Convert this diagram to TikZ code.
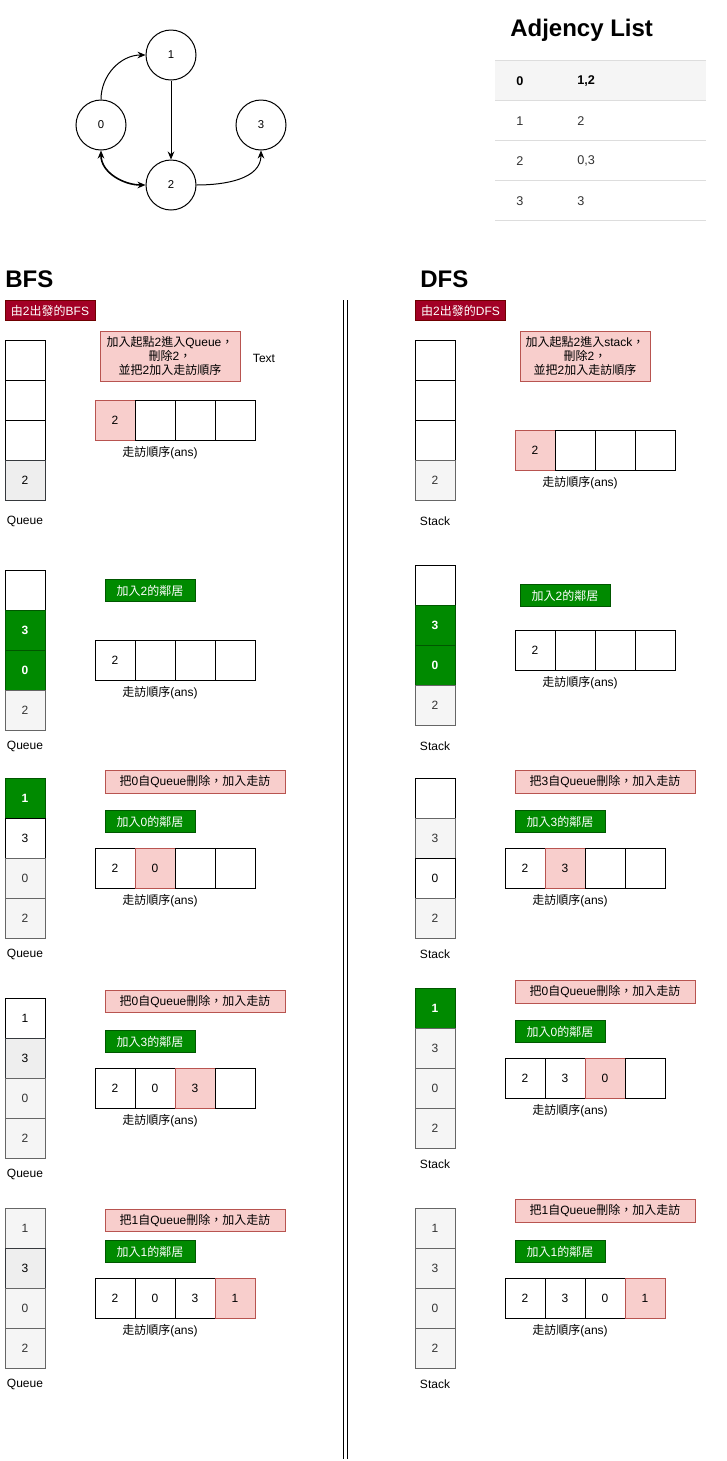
\documentclass[tikz,border=0pt]{standalone}
\usepackage{fontspec}
\setmainfont{Liberation Sans}
\newfontfamily\cjk{Noto Sans CJK TC}
\newcommand\zh[1]{{\cjk #1}}
\usetikzlibrary{arrows.meta}
\definecolor{grayF}{HTML}{F5F5F5}
\definecolor{grayE}{HTML}{EEEEEE}
\definecolor{grayB}{HTML}{666666}
\definecolor{grayT}{HTML}{333333}
\definecolor{grayK}{HTML}{36393D}
\definecolor{greenF}{HTML}{008A00}
\definecolor{greenD}{HTML}{005700}
\definecolor{pinkF}{HTML}{F8CECC}
\definecolor{pinkD}{HTML}{B85450}
\definecolor{redF}{HTML}{A20025}
\definecolor{redD}{HTML}{6F0000}
\definecolor{lineL}{HTML}{DDDDDD}
\definecolor{tabT}{HTML}{333333}
\tikzset{
  cell/.style={draw=black, fill=white, minimum width=30pt, minimum height=30pt, inner sep=0pt, line width=0.75pt, font=\fontsize{9}{11}\selectfont},
  cw/.style={cell},
  cgl/.style={cell, fill=grayF, draw=grayB, text=grayT},
  cgd/.style={cell, fill=grayE, draw=grayK},
  cgr/.style={cell, fill=greenF, draw=greenD, text=white, font=\bfseries\fontsize{9}{11}\selectfont},
  cpk/.style={cell, fill=pinkF, draw=pinkD},
  pinkbox/.style={draw=pinkD, fill=pinkF, line width=0.75pt, inner sep=0pt, align=center, font=\fontsize{9}{10.8}\selectfont},
  pinkline/.style={pinkbox, minimum width=135pt, minimum height=17pt},
  greenline/.style={draw=greenD, fill=greenF, text=white, line width=0.75pt, inner sep=0pt, minimum width=67.5pt, minimum height=16.5pt, font=\fontsize{9}{10.5}\selectfont},
  redlabel/.style={draw=redD, fill=redF, text=white, line width=0.75pt, inner sep=0pt, minimum width=67.5pt, minimum height=15pt, font=\fontsize{9}{10.5}\selectfont},
  lbl/.style={inner sep=0pt, font=\fontsize{9}{11}\selectfont},
  anslbl/.style={inner sep=0pt, font=\fontsize{9}{11}\selectfont},
  title/.style={inner sep=0pt, anchor=west, font=\bfseries\fontsize{18}{20}\selectfont},
  vtx/.style={circle, draw=black, line width=0.75pt, minimum size=37.5pt, inner sep=0pt, font=\fontsize{8.5}{10}\selectfont},
  tab/.style={inner sep=0pt, anchor=west, text=tabT, font=\fontsize{9.5}{11}\selectfont},
  tabb/.style={tab, font=\bfseries\fontsize{9.5}{11}\selectfont, text=black},
  edge/.style={line width=0.75pt, -{Stealth[length=6pt,width=5pt]}},
}
\begin{document}
\begin{tikzpicture}[x=0.75pt,y=-0.75pt]
\useasboundingbox (0,0) rectangle (726,1461);
\fill[white] (0,0) rectangle (726,1461);

% ---------- graph ----------
\node[vtx] (n1) at (171,55) {1};
\node[vtx] (n0) at (101,125) {0};
\node[vtx] (n2) at (171,185) {2};
\node[vtx] (n3) at (261,125) {3};
\draw[edge] (n0.north) to[out=90,in=180] (n1.west);
\draw[edge] (n1.south) -- (n2.north);
\draw[line width=1.2pt, {Stealth[length=6pt,width=5pt]}-{Stealth[length=6pt,width=5pt]}] (n0.south) to[out=-90,in=180] (n2.west);
\draw[edge] (n2.east) to[out=0,in=-90] (n3.south);

% ---------- adjacency list ----------
\node[title] (adjt) at (510,30) {Adjency List};
\fill[grayF] (495,60) rectangle (706,100);
\foreach \yy in {60,100,140,180,220} \draw[lineL, line width=0.75pt] (495,\yy) -- (706,\yy);
\node[tabb] (t0a) at (516,81) {0};
\node[tabb] (t0b) at (577,81) {1,2};
\node[tab] (t1a) at (516,121) {1};
\node[tab] (t1b) at (577,121) {2};
\node[tab] (t2a) at (516,161) {2};
\node[tab] (t2b) at (577,161) {0,3};
\node[tab] (t3a) at (516,201) {3};
\node[tab] (t3b) at (577,201) {3};

% ---------- titles ----------
\node[title] (bfst) at (5,279) {BFS};
\node[title] (dfst) at (420,279) {DFS};
\node[redlabel] (bfsr) at (50,310.5) {\zh{由}2\zh{出發的}BFS};
\node[redlabel] (dfsr) at (460.5,310.5) {\zh{由}2\zh{出發的}DFS};

% separator
\draw[line width=1.2pt] (343.5,300) -- (343.5,1459);
\draw[line width=1.2pt] (347.5,300) -- (347.5,1459);

% ================= BFS =================
% step 1
\node[cw] (bq1a) at (25,360) {};
\node[cw] (bq1b) at (25,400) {};
\node[cw] (bq1c) at (25,440) {};
\node[cgd] (bq1d) at (25,480) {2};
\node[lbl] (bq1l) at (25,521) {Queue};
\node[pinkbox, minimum width=105pt, minimum height=37.5pt] (bp1) at (170,356) {\zh{加入起點}2\zh{進入}Queue\zh{，}\\\zh{刪除}2\zh{，}\\\zh{並把}2\zh{加入走訪順序}};
\node[lbl] (btext) at (264,358) {Text};
\node[cpk] (ba1a) at (115,420) {2};
\node[cw] (ba1b) at (155,420) {};
\node[cw] (ba1c) at (195,420) {};
\node[cw] (ba1d) at (235,420) {};
\node[anslbl] (ba1l) at (160,452.5) {\zh{走訪順序}(ans)};

% step 2
\node[cw] (bq2a) at (25,590) {};
\node[cgr] (bq2b) at (25,630) {3};
\node[cgr] (bq2c) at (25,670) {0};
\node[cgl] (bq2d) at (25,710) {2};
\node[lbl] (bq2l) at (25,746) {Queue};
\node[greenline] (bg2) at (150,590.5) {\zh{加入}2\zh{的鄰居}};
\node[cw] (ba2a) at (115,660) {2};
\node[cw] (ba2b) at (155,660) {};
\node[cw] (ba2c) at (195,660) {};
\node[cw] (ba2d) at (235,660) {};
\node[anslbl] (ba2l) at (160,692.5) {\zh{走訪順序}(ans)};

% step 3
\node[cgr] (bq3a) at (25,798) {1};
\node[cw] (bq3b) at (25,838) {3};
\node[cgl] (bq3c) at (25,878) {0};
\node[cgl] (bq3d) at (25,918) {2};
\node[lbl] (bq3l) at (25,954) {Queue};
\node[pinkline] (bp3) at (195,782) {\zh{把}0\zh{自}Queue\zh{刪除，加入走訪}};
\node[greenline] (bg3) at (150,821.5) {\zh{加入}0\zh{的鄰居}};
\node[cw] (ba3a) at (115,868) {2};
\node[cpk] (ba3b) at (155,868) {0};
\node[cw] (ba3c) at (195,868) {};
\node[cw] (ba3d) at (235,868) {};
\node[anslbl] (ba3l) at (160,900.5) {\zh{走訪順序}(ans)};

% step 4
\node[cw] (bq4a) at (25,1018) {1};
\node[cgd] (bq4b) at (25,1058) {3};
\node[cgl] (bq4c) at (25,1098) {0};
\node[cgl] (bq4d) at (25,1138) {2};
\node[lbl] (bq4l) at (25,1174) {Queue};
\node[pinkline] (bp4) at (195,1001.5) {\zh{把}0\zh{自}Queue\zh{刪除，加入走訪}};
\node[greenline] (bg4) at (150,1041.5) {\zh{加入}3\zh{的鄰居}};
\node[cw] (ba4a) at (115,1088) {2};
\node[cw] (ba4b) at (155,1088) {0};
\node[cpk] (ba4c) at (195,1088) {3};
\node[cw] (ba4d) at (235,1088) {};
\node[anslbl] (ba4l) at (160,1120.5) {\zh{走訪順序}(ans)};

% step 5
\node[cgl] (bq5a) at (25,1228) {1};
\node[cgd] (bq5b) at (25,1268) {3};
\node[cgl] (bq5c) at (25,1308) {0};
\node[cgl] (bq5d) at (25,1348) {2};
\node[lbl] (bq5l) at (25,1384) {Queue};
\node[pinkline] (bp5) at (195,1220.5) {\zh{把}1\zh{自}Queue\zh{刪除，加入走訪}};
\node[greenline] (bg5) at (150,1251.5) {\zh{加入}1\zh{的鄰居}};
\node[cw] (ba5a) at (115,1298) {2};
\node[cw] (ba5b) at (155,1298) {0};
\node[cw] (ba5c) at (195,1298) {3};
\node[cpk] (ba5d) at (235,1298) {1};
\node[anslbl] (ba5l) at (160,1330.5) {\zh{走訪順序}(ans)};

% ================= DFS =================
% step 1
\node[cw] (ds1a) at (435,360) {};
\node[cw] (ds1b) at (435,400) {};
\node[cw] (ds1c) at (435,440) {};
\node[cgl] (ds1d) at (435,480) {2};
\node[lbl] (ds1l) at (435,521) {Stack};
\node[pinkbox, minimum width=97.5pt, minimum height=37.5pt] (dp1) at (585,356) {\zh{加入起點}2\zh{進入}stack\zh{，}\\\zh{刪除}2\zh{，}\\\zh{並把}2\zh{加入走訪順序}};
\node[cpk] (da1a) at (535,450) {2};
\node[cw] (da1b) at (575,450) {};
\node[cw] (da1c) at (615,450) {};
\node[cw] (da1d) at (655,450) {};
\node[anslbl] (da1l) at (580,482.5) {\zh{走訪順序}(ans)};

% step 2
\node[cw] (ds2a) at (435,585) {};
\node[cgr] (ds2b) at (435,625) {3};
\node[cgr] (ds2c) at (435,665) {0};
\node[cgl] (ds2d) at (435,705) {2};
\node[lbl] (ds2l) at (435,746) {Stack};
\node[greenline] (dg2) at (565,595.5) {\zh{加入}2\zh{的鄰居}};
\node[cw] (da2a) at (535,650) {2};
\node[cw] (da2b) at (575,650) {};
\node[cw] (da2c) at (615,650) {};
\node[cw] (da2d) at (655,650) {};
\node[anslbl] (da2l) at (580,682.5) {\zh{走訪順序}(ans)};

% step 3
\node[cw] (ds3a) at (435,798) {};
\node[cgl] (ds3b) at (435,838) {3};
\node[cw] (ds3c) at (435,878) {0};
\node[cgl] (ds3d) at (435,918) {2};
\node[lbl] (ds3l) at (435,954) {Stack};
\node[pinkline] (dp3) at (605,782) {\zh{把}3\zh{自}Queue\zh{刪除，加入走訪}};
\node[greenline] (dg3) at (560,821.5) {\zh{加入}3\zh{的鄰居}};
\node[cw] (da3a) at (525,868) {2};
\node[cpk] (da3b) at (565,868) {3};
\node[cw] (da3c) at (605,868) {};
\node[cw] (da3d) at (645,868) {};
\node[anslbl] (da3l) at (570,900.5) {\zh{走訪順序}(ans)};

% step 4
\node[cgr] (ds4a) at (435,1008) {1};
\node[cgl] (ds4b) at (435,1048) {3};
\node[cgl] (ds4c) at (435,1088) {0};
\node[cgl] (ds4d) at (435,1128) {2};
\node[lbl] (ds4l) at (435,1164) {Stack};
\node[pinkline] (dp4) at (605,992) {\zh{把}0\zh{自}Queue\zh{刪除，加入走訪}};
\node[greenline] (dg4) at (560,1031.5) {\zh{加入}0\zh{的鄰居}};
\node[cw] (da4a) at (525,1078) {2};
\node[cw] (da4b) at (565,1078) {3};
\node[cpk] (da4c) at (605,1078) {0};
\node[cw] (da4d) at (645,1078) {};
\node[anslbl] (da4l) at (570,1110.5) {\zh{走訪順序}(ans)};

% step 5
\node[cgl] (ds5a) at (435,1228) {1};
\node[cgl] (ds5b) at (435,1268) {3};
\node[cgl] (ds5c) at (435,1308) {0};
\node[cgl] (ds5d) at (435,1348) {2};
\node[lbl] (ds5l) at (435,1384) {Stack};
\node[pinkline] (dp5) at (605,1211) {\zh{把}1\zh{自}Queue\zh{刪除，加入走訪}};
\node[greenline] (dg5) at (560,1251.5) {\zh{加入}1\zh{的鄰居}};
\node[cw] (da5a) at (525,1298) {2};
\node[cw] (da5b) at (565,1298) {3};
\node[cw] (da5c) at (605,1298) {0};
\node[cpk] (da5d) at (645,1298) {1};
\node[anslbl] (da5l) at (570,1330.5) {\zh{走訪順序}(ans)};
\end{tikzpicture}
\end{document}
